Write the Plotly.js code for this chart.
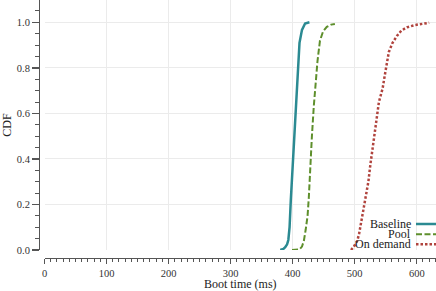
<!DOCTYPE html>
<html>
<head>
<meta charset="utf-8">
<script src="https://cdn.plot.ly/plotly-3.0.1.min.js"></script>
<style>html,body{margin:0;padding:0;background:#fff;}#chart{width:436px;height:291px;}</style>
</head>
<body>
<div id="chart"></div>
<script>
// Series names
const seriesNames = ["Baseline", "Pool", "On demand"];

// Baseline boot times (ms) and CDF
const baselineX = [380, 385, 388, 391, 393, 395, 397, 400, 402, 405, 407, 409, 411, 415, 420, 427];
const baselineY = [0, 0.005, 0.012, 0.025, 0.044, 0.1, 0.22, 0.37, 0.51, 0.64, 0.76, 0.84, 0.91, 0.967, 0.995, 1.0];

// Pool boot times (ms) and CDF
const poolX = [399, 405, 411, 415, 418, 421, 424, 426, 428, 431, 434, 437, 440, 444, 449, 455, 462, 468];
const poolY = [0, 0, 0.003, 0.015, 0.04, 0.09, 0.15, 0.23, 0.36, 0.5, 0.63, 0.73, 0.83, 0.92, 0.96, 0.98, 0.99, 0.993];

// On demand boot times (ms) and CDF
const onDemandX = [494, 498, 501, 504, 507, 510, 513, 516, 519, 522, 525, 528, 532, 535, 539, 542, 545, 548, 552, 555, 561, 568, 575, 584, 597, 608, 620];
const onDemandY = [0, 0.012, 0.026, 0.04, 0.07, 0.117, 0.16, 0.21, 0.26, 0.3, 0.37, 0.425, 0.51, 0.57, 0.65, 0.68, 0.71, 0.76, 0.82, 0.87, 0.91, 0.94, 0.963, 0.978, 0.988, 0.994, 0.998];

// Axis ticks
const xTickVals = [0, 100, 200, 300, 400, 500, 600];
const yTickVals = [0.0, 0.2, 0.4, 0.6, 0.8, 1.0];

const colors = ["#2b8a92", "#5e8f2c", "#b0433d"];
const dashes = ["solid", "6px,2.5px", "2.5px,2px"];
const widths = [2.5, 2, 2.5];

const FONT = "Liberation Serif, Times New Roman, serif";
const W = 436, H = 291, ML = 39, MB = 33;
const PW = W - ML, PH = H - MB;

const xs = [baselineX, poolX, onDemandX];
const ys = [baselineY, poolY, onDemandY];

const traces = seriesNames.map((n, i) => ({
  type: "scatter", mode: "lines", name: n,
  x: xs[i], y: ys[i],
  line: {color: colors[i], width: widths[i], dash: dashes[i]},
  showlegend: false, hoverinfo: "skip"
}));

// manual legend (text left of line sample, right-aligned)
const legendRowsPx = [224, 234.2, 244.3];
const px2x = p => (p - ML) / PW;
const py2y = p => (PH - p) / PH;
const annotations = seriesNames.map((n, i) => ({
  xref: "paper", yref: "paper", x: px2x(412.5), y: py2y(legendRowsPx[i] - 0.5),
  xanchor: "right", yanchor: "middle", showarrow: false, text: n,
  font: {family: FONT, size: 12, color: "#222"}
}));
const shapes = seriesNames.map((n, i) => ({
  type: "line", xref: "paper", yref: "paper",
  x0: px2x(416), x1: px2x(437), y0: py2y(legendRowsPx[i]), y1: py2y(legendRowsPx[i]),
  line: {color: colors[i], width: widths[i], dash: dashes[i]}
}));

const axisColor = "#555";
const layout = {
  width: W, height: H,
  margin: {l: ML, r: 0, t: 0, b: MB, pad: 0},
  paper_bgcolor: "#fff", plot_bgcolor: "#fff",
  font: {family: FONT, size: 10.5, color: "#333"},
  showlegend: false,
  xaxis: {
    domain: [px2x(44.5), 1], anchor: "free", position: 0,
    range: [0, 631], tickvals: xTickVals, ticktext: xTickVals.map(String),
    showline: true, linecolor: axisColor, linewidth: 1.3,
    ticks: "outside", ticklen: 5, tickwidth: 1.3, tickcolor: axisColor,
    minor: {dtick: 10, ticks: "outside", ticklen: 3, tickwidth: 1, tickcolor: axisColor, showgrid: false},
    showgrid: true, gridcolor: "#ebebeb", gridwidth: 1, zeroline: false,
    tickfont: {family: FONT, size: 10.5, color: "#333"},
    title: {text: "Boot time (ms)", font: {family: FONT, size: 12, color: "#222"}, standoff: 4}
  },
  yaxis: {
    domain: [(PH - 250) / PH, 1], anchor: "free", position: 0,
    range: [0, 1.098], tickvals: yTickVals, tickformat: ".1f",
    showline: true, linecolor: axisColor, linewidth: 1.3,
    ticks: "outside", ticklen: 7, tickwidth: 1.3, tickcolor: axisColor,
    minor: {dtick: 0.05, ticks: "outside", ticklen: 4, tickwidth: 1, tickcolor: axisColor, showgrid: false},
    showgrid: true, gridcolor: "#ebebeb", gridwidth: 1, zeroline: false,
    tickfont: {family: FONT, size: 10.5, color: "#333"},
    title: {text: "CDF", font: {family: FONT, size: 12, color: "#222"}, standoff: 4}
  },
  annotations: annotations,
  shapes: shapes
};

Plotly.newPlot("chart", traces, layout, {staticPlot: true, displayModeBar: false});
</script>
</body>
</html>
